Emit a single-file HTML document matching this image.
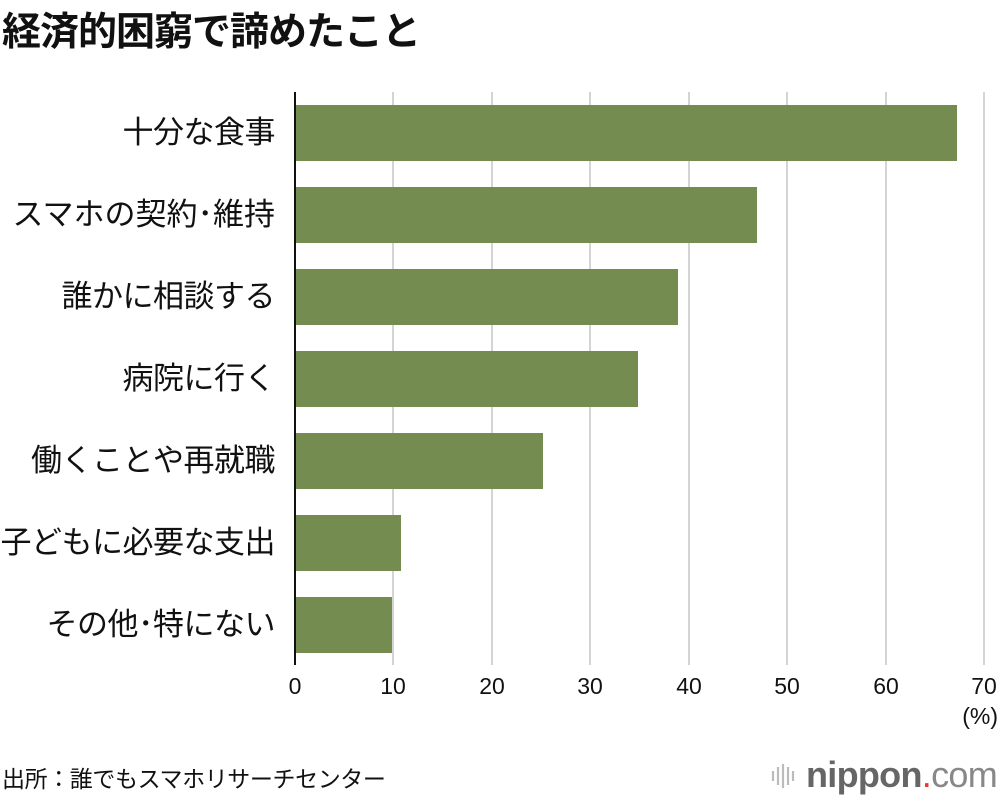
<!DOCTYPE html>
<html><head><meta charset="utf-8"><style>
body{margin:0;background:#fff;width:1000px;height:796px;position:relative;overflow:hidden;font-family:"Liberation Sans","Noto Sans CJK JP",sans-serif;color:#111}
.t{position:absolute;white-space:nowrap}
.lab{position:absolute;right:725px;font-size:31px;line-height:36px;white-space:nowrap;letter-spacing:-0.5px}
.bar{position:absolute;left:296px;height:56px;background:#758c51}
.g{position:absolute;top:92px;height:573px;width:2px;background:#d4d4d4}
.tk{position:absolute;top:673px;font-size:23px;width:60px;text-align:center}
</style></head><body>
<div class="t" style="left:2px;top:1px;font-size:39px;font-weight:bold;letter-spacing:-1px">経済的困窮で諦めたこと</div>
<div class="g" style="left:392px"></div><div class="g" style="left:491px"></div><div class="g" style="left:589px"></div><div class="g" style="left:688px"></div><div class="g" style="left:786px"></div><div class="g" style="left:885px"></div><div class="g" style="left:983px"></div>
<div style="position:absolute;left:294px;top:92px;width:2px;height:573px;background:#111"></div>
<div class="bar" style="top:105px;width:661px"></div>
<div class="bar" style="top:187px;width:461px"></div>
<div class="bar" style="top:269px;width:382px"></div>
<div class="bar" style="top:351px;width:342px"></div>
<div class="bar" style="top:433px;width:247px"></div>
<div class="bar" style="top:515px;width:105px"></div>
<div class="bar" style="top:597px;width:96px"></div>
<div class="lab" style="top:115px">十分な食事</div>
<div class="lab" style="top:197px;letter-spacing:0">スマホの契約･維持</div>
<div class="lab" style="top:279px">誰かに相談する</div>
<div class="lab" style="top:361px">病院に行く</div>
<div class="lab" style="top:443px">働くことや再就職</div>
<div class="lab" style="top:525px">子どもに必要な支出</div>
<div class="lab" style="top:607px">その他･特にない</div>
<div class="tk" style="left:265px">0</div><div class="tk" style="left:363px">10</div><div class="tk" style="left:462px">20</div><div class="tk" style="left:560px">30</div><div class="tk" style="left:659px">40</div><div class="tk" style="left:757px">50</div><div class="tk" style="left:856px">60</div><div class="tk" style="left:954px">70</div>
<div class="t" style="right:2px;top:703px;font-size:23px">(%)</div>
<div class="t" style="left:2px;top:760px;font-size:23px;letter-spacing:-0.4px">出所：誰でもスマホリサーチセンター</div>
<svg style="position:absolute;left:770px;top:762px" width="30" height="28"><g stroke="#bbb" stroke-width="2.2"><line x1="3" y1="9" x2="3" y2="19"/><line x1="8" y1="5" x2="8" y2="23"/><line x1="13" y1="2" x2="13" y2="26"/><line x1="18" y1="5" x2="18" y2="23"/><line x1="23" y1="9" x2="23" y2="19"/></g></svg>
<div class="t" style="left:806px;top:754px;font-size:36px;color:#666;letter-spacing:-0.7px"><b>nippon</b><span style="color:#e33">.</span><span style="color:#888">com</span></div>
</body></html>
